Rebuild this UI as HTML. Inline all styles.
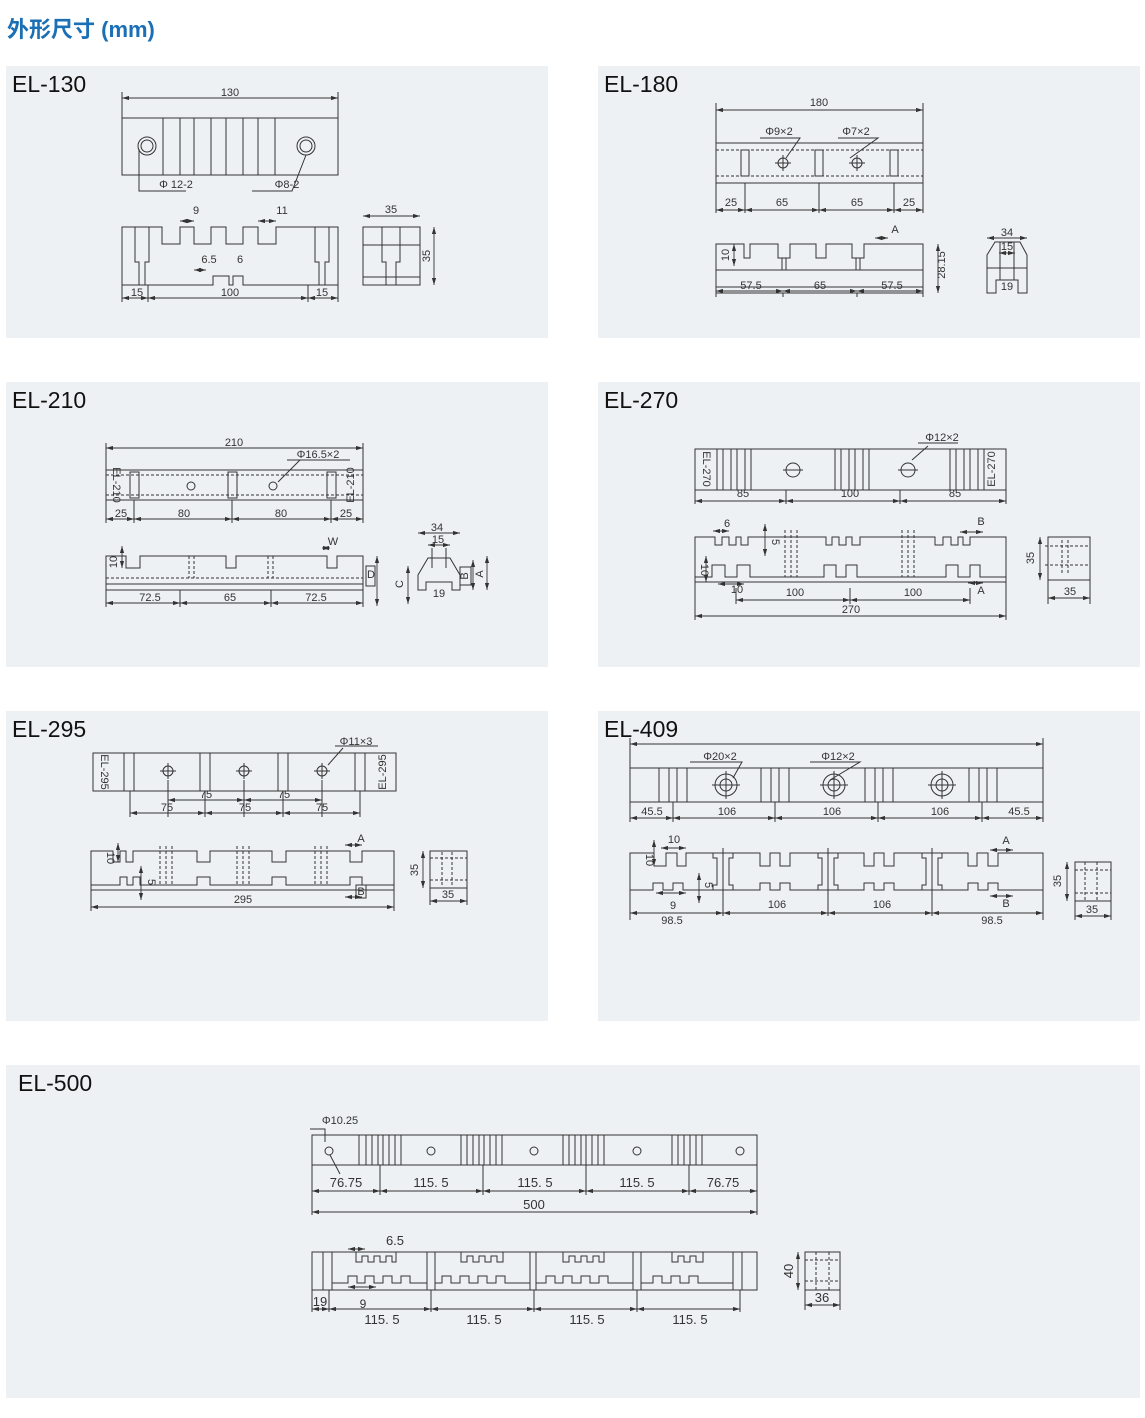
<!DOCTYPE html>
<html><head><meta charset="utf-8"><style>
body{margin:0;background:#fff;width:1145px;height:1418px;overflow:hidden;font-family:"Liberation Sans","Noto Sans CJK SC",sans-serif}
svg{position:absolute;left:0;top:0}
.s{fill:none;stroke:#333;stroke-width:1}
.d{fill:none;stroke:#333;stroke-width:0.9;marker-start:url(#a);marker-end:url(#b)}
.h{stroke-dasharray:3 2}
.t{font-family:"Liberation Sans",sans-serif;font-size:11px;fill:#333;text-anchor:middle}
.L{font-family:"Liberation Sans",sans-serif;font-size:23px;fill:#111}
</style></head><body>
<svg width="1145" height="1418" viewBox="0 0 1145 1418">
<defs>
<marker id="b" viewBox="0 0 10 6" refX="10" refY="3" markerWidth="8" markerHeight="5" orient="auto"><path d="M0,0L10,3L0,6z" fill="#333"/></marker>
<marker id="a" viewBox="0 0 10 6" refX="0" refY="3" markerWidth="8" markerHeight="5" orient="auto"><path d="M10,0L0,3L10,6z" fill="#333"/></marker>
</defs>
<text x="7" y="37" font-size="22" font-weight="bold" fill="#1a6fb5" font-family="Liberation Sans,Noto Sans CJK SC,sans-serif">外形尺寸 (mm)</text>
<g fill="#eef1f3">
<rect x="6" y="66" width="542" height="272"/><rect x="598" y="66" width="542" height="272"/>
<rect x="6" y="382" width="542" height="285"/><rect x="598" y="382" width="542" height="285"/>
<rect x="6" y="711" width="542" height="310"/><rect x="598" y="711" width="542" height="310"/>
<rect x="6" y="1065" width="1134" height="333"/>
</g>
<text class="L" x="12" y="92">EL-130</text><text class="L" x="604" y="92">EL-180</text>
<text class="L" x="12" y="408">EL-210</text><text class="L" x="604" y="408">EL-270</text>
<text class="L" x="12" y="737">EL-295</text><text class="L" x="604" y="737">EL-409</text>
<text class="L" x="18" y="1091">EL-500</text>

<!-- EL-130 -->
<g>
<path class="s" d="M122,92V118M338,92V118"/><line class="d" x1="122" y1="98" x2="338" y2="98"/><text class="t" x="230" y="96">130</text>
<rect class="s" x="122" y="118" width="216" height="57"/>
<path class="s" d="M163,118V175M180,118V175M194,118V175M211,118V175M226,118V175M243,118V175M258,118V175M275,118V175"/>
<circle class="s" cx="147" cy="146" r="9"/><circle class="s" cx="147" cy="146" r="6"/>
<circle class="s" cx="306" cy="146" r="9"/><circle class="s" cx="306" cy="146" r="6"/>
<path class="s" d="M139,149V191H186M306,155L292,191H252"/>
<text class="t" x="176" y="188">Φ 12-2</text><text class="t" x="287" y="188">Φ8-2</text>
<path class="s" d="M122,227H162V244H180V227H194V244H211V227H226V244H243V227H258V244H276V227H338V285H243V276H233V285H229V276H213V285H122Z"/>
<path class="s" d="M135,227V262H139V285M149,227V262H145V285M315,227V262H319V285M329,227V262H325V285"/>
<line class="d" x1="180" y1="221" x2="194" y2="221"/><text class="t" x="196" y="214">9</text>
<line class="d" x1="258" y1="221" x2="276" y2="221"/><text class="t" x="282" y="214">11</text>
<line class="d" x1="194" y1="270" x2="206" y2="270"/><text class="t" x="209" y="263">6.5</text><text class="t" x="240" y="263">6</text>
<path class="s" d="M122,285V302M148,285V302M308,285V302M338,285V302"/>
<line class="d" x1="122" y1="298" x2="148" y2="298"/><line class="d" x1="148" y1="298" x2="308" y2="298"/><line class="d" x1="308" y1="298" x2="338" y2="298"/>
<text class="t" x="137" y="296">15</text><text class="t" x="230" y="296">100</text><text class="t" x="322" y="296">15</text>
<rect class="s" x="363" y="227" width="57" height="58"/>
<path class="s" d="M363,245H420M363,277H420M382,227V262H386V285M400,227V262H396V285"/>
<line class="d" x1="363" y1="216" x2="420" y2="216"/><text class="t" x="391" y="213">35</text>
<line class="d" x1="434" y1="227" x2="434" y2="285"/><text class="t" x="430" y="256" transform="rotate(-90 430 256)">35</text>
</g>

<!-- EL-180 -->
<g>
<path class="s" d="M716,103V143M923,103V143"/><line class="d" x1="716" y1="110" x2="923" y2="110"/><text class="t" x="819" y="106">180</text>
<rect class="s" x="716" y="143" width="207" height="40"/>
<path class="s h" d="M716,150H923M716,176H923"/>
<rect class="s" x="741" y="150" width="8" height="26"/><rect class="s" x="815" y="150" width="8" height="26"/><rect class="s" x="890" y="150" width="8" height="26"/>
<circle class="s" cx="783" cy="163" r="5"/><circle class="s" cx="857" cy="163" r="5"/>
<path class="s" d="M775,163H791M783,155V171M849,163H865M857,155V171M760,138H800L786,158M838,138H878L850,158"/>
<text class="t" x="779" y="135">Φ9×2</text><text class="t" x="856" y="135">Φ7×2</text>
<path class="s" d="M716,183V213M745,183V213M819,183V213M894,183V213M923,183V213"/>
<line class="d" x1="716" y1="210" x2="745" y2="210"/><line class="d" x1="745" y1="210" x2="819" y2="210"/><line class="d" x1="819" y1="210" x2="894" y2="210"/><line class="d" x1="894" y1="210" x2="923" y2="210"/>
<text class="t" x="731" y="206">25</text><text class="t" x="782" y="206">65</text><text class="t" x="857" y="206">65</text><text class="t" x="909" y="206">25</text>
<path class="s" d="M716,244H744V258H750V244H778V258H790V244H816V258H826V244H852V258H864V244H923V293H716Z"/>
<path class="s" d="M716,270H923M716,287H923M782,258V270M786,258V270M856,258V270M860,258V270"/>
<line class="d" x1="734" y1="244" x2="734" y2="266"/><text class="t" x="729" y="255" transform="rotate(-90 729 255)">10</text>
<line class="d" x1="938" y1="244" x2="938" y2="293"/><text class="t" x="945" y="265" transform="rotate(-90 945 265)">28.15</text>
<line class="d" x1="875" y1="238" x2="888" y2="238"/><text class="t" x="895" y="233">A</text>
<path class="s" d="M716,293V297M783,293V297M857,293V297M923,293V297"/>
<line class="d" x1="716" y1="291" x2="783" y2="291"/><line class="d" x1="783" y1="291" x2="857" y2="291"/><line class="d" x1="857" y1="291" x2="923" y2="291"/>
<text class="t" x="751" y="289">57.5</text><text class="t" x="820" y="289">65</text><text class="t" x="892" y="289">57.5</text>
<path class="s" d="M987,293V255L995,242H1020L1027,255V293H1018V280H996V293Z"/>
<path class="s" d="M987,268H1027M1000,242V280M1014,242V280"/>
<line class="d" x1="987" y1="238" x2="1027" y2="238"/><text class="t" x="1007" y="236">34</text>
<line class="d" x1="999" y1="253" x2="1015" y2="253"/><text class="t" x="1007" y="250">15</text>
<text class="t" x="1007" y="290">19</text>
</g>

<!-- EL-210 -->
<g>
<path class="s" d="M106,443V470M363,443V470"/><line class="d" x1="106" y1="448" x2="363" y2="448"/><text class="t" x="234" y="446">210</text>
<rect class="s" x="106" y="470" width="257" height="30"/>
<path class="s h" d="M106,475H363M106,495H363"/>
<rect class="s" x="130" y="472" width="9" height="26"/><rect class="s" x="228" y="472" width="9" height="26"/><rect class="s" x="327" y="472" width="9" height="26"/>
<circle class="s" cx="191" cy="486" r="4"/><circle class="s" cx="273" cy="486" r="4"/>
<path class="s" d="M287,460H350M300,460L278,482"/><text class="t" x="318" y="458">Φ16.5×2</text>
<text class="t" x="113" y="485" font-size="9" transform="rotate(90 113 485)">EL-210</text>
<text class="t" x="354" y="485" font-size="9" transform="rotate(-90 354 485)">EL-210</text>
<path class="s" d="M106,500V523M134,500V523M232,500V523M331,500V523M363,500V523"/>
<line class="d" x1="106" y1="519" x2="134" y2="519"/><line class="d" x1="134" y1="519" x2="232" y2="519"/><line class="d" x1="232" y1="519" x2="331" y2="519"/><line class="d" x1="331" y1="519" x2="363" y2="519"/>
<text class="t" x="121" y="517">25</text><text class="t" x="184" y="517">80</text><text class="t" x="281" y="517">80</text><text class="t" x="346" y="517">25</text>
<path class="s" d="M106,556H126V568H140V556H226V568H236V556H327V568H337V556H363V590H106Z"/>
<path class="s h" d="M106,578H363M189,556V578M194,556V578M268,556V578M273,556V578"/>
<path class="s" d="M106,584H363"/>
<line class="d" x1="122" y1="546" x2="122" y2="568"/><text class="t" x="117" y="562" transform="rotate(-90 117 562)">10</text>
<line class="d" x1="322" y1="548" x2="330" y2="548"/><text class="t" x="333" y="545">W</text>
<line class="d" x1="377" y1="556" x2="377" y2="606"/><rect class="s" x="366" y="566" width="9" height="20"/><text class="t" x="371" y="578" font-size="9">D</text>
<path class="s" d="M106,590V607M180,590V607M271,590V607M363,590V607"/>
<line class="d" x1="106" y1="603" x2="180" y2="603"/><line class="d" x1="180" y1="603" x2="271" y2="603"/><line class="d" x1="271" y1="603" x2="363" y2="603"/>
<text class="t" x="150" y="601">72.5</text><text class="t" x="230" y="601">65</text><text class="t" x="316" y="601">72.5</text>
<path class="s" d="M418,590V575L428,558H450L460,575V590H452V582H426V590Z"/>
<path class="s" d="M432,548V568M446,548V568"/>
<line class="d" x1="418" y1="533" x2="460" y2="533"/><text class="t" x="437" y="531">34</text>
<line class="d" x1="428" y1="545" x2="450" y2="545"/><text class="t" x="438" y="543">15</text>
<text class="t" x="439" y="597">19</text>
<line class="d" x1="408" y1="566" x2="408" y2="604"/><text class="t" x="403" y="584" transform="rotate(-90 403 584)">C</text>
<line class="d" x1="473" y1="560" x2="473" y2="590"/><rect class="s" x="460" y="567" width="11" height="18"/><text class="t" x="468" y="576" font-size="9" transform="rotate(-90 468 576)">B</text>
<line class="d" x1="487" y1="556" x2="487" y2="590"/><text class="t" x="483" y="574" transform="rotate(-90 483 574)">A</text>
</g>

<!-- EL-270 -->
<g>
<rect class="s" x="695" y="449" width="311" height="41"/>
<path class="s" d="M717,449V490M723,449V490M731,449V490M737,449V490M745,449V490M751,449V490M835,449V490M841,449V490M849,449V490M855,449V490M863,449V490M869,449V490M950,449V490M956,449V490M964,449V490M970,449V490M978,449V490M984,449V490"/>
<circle class="s" cx="793" cy="470" r="7"/><circle class="s" cx="908" cy="470" r="7"/>
<path class="s" d="M783,470H803M918,470H898"/>
<path class="s" d="M918,443H958M928,446L912,460"/><text class="t" x="942" y="441">Φ12×2</text>
<text class="t" x="703" y="469" font-size="9" transform="rotate(90 703 469)">EL-270</text>
<text class="t" x="995" y="469" font-size="9" transform="rotate(-90 995 469)">EL-270</text>
<path class="s" d="M695,490V504M786,490V504M900,490V504M1006,490V504"/>
<line class="d" x1="695" y1="501" x2="786" y2="501"/><line class="d" x1="786" y1="501" x2="900" y2="501"/><line class="d" x1="900" y1="501" x2="1006" y2="501"/>
<text class="t" x="743" y="497">85</text><text class="t" x="850" y="497">100</text><text class="t" x="955" y="497">85</text>
<path class="s" d="M695,537H715V545H722V537H729V545H736V537H741V545H748V537H826V545H832V537H839V545H846V537H852V545H860V537H935V545H943V537H951V545H958V537H963V545H970V537H1006V582H695Z"/>
<path class="s" d="M695,577H712V565H725V577H737V565H750V577H824V565H836V577H846V565H857V577H946V565H958V577H970V565H980V577H1006"/>
<path class="s h" d="M785,530V577M791,530V577M797,530V577M902,530V577M908,530V577M914,530V577M1045,546H1090M1045,565H1090M1062,540V575M1068,540V575"/>
<line class="d" x1="713" y1="531" x2="729" y2="531"/><text class="t" x="727" y="527">6</text>
<line class="d" x1="765" y1="524" x2="765" y2="556"/><text class="t" x="772" y="542" transform="rotate(90 772 542)">5</text>
<line class="d" x1="706" y1="556" x2="706" y2="582"/><text class="t" x="701" y="570" transform="rotate(90 701 570)">10</text>
<line class="d" x1="718" y1="584" x2="744" y2="584"/><text class="t" x="737" y="593">10</text>
<line class="d" x1="960" y1="532" x2="983" y2="532"/><text class="t" x="981" y="525">B</text>
<line class="d" x1="968" y1="583" x2="983" y2="583"/><text class="t" x="981" y="594">A</text>
<path class="s" d="M736,588V604M850,588V604M970,588V604M695,582V620M1006,582V620"/>
<line class="d" x1="736" y1="600" x2="850" y2="600"/><line class="d" x1="850" y1="600" x2="970" y2="600"/>
<text class="t" x="795" y="596">100</text><text class="t" x="913" y="596">100</text>
<line class="d" x1="695" y1="616" x2="1006" y2="616"/><text class="t" x="851" y="613">270</text>
<rect class="s" x="1048" y="537" width="42" height="43"/>
<line class="d" x1="1040" y1="537" x2="1040" y2="580"/><text class="t" x="1034" y="558" transform="rotate(-90 1034 558)">35</text>
<path class="s" d="M1048,580V604M1090,580V604"/><line class="d" x1="1048" y1="598" x2="1090" y2="598"/><text class="t" x="1070" y="595">35</text>
</g>

<!-- EL-295 -->
<g>
<rect class="s" x="93" y="753" width="303" height="38"/>
<rect class="s" x="124" y="753" width="10" height="38"/><rect class="s" x="200" y="753" width="10" height="38"/><rect class="s" x="278" y="753" width="10" height="38"/><rect class="s" x="355" y="753" width="10" height="38"/>
<circle class="s" cx="168" cy="771" r="5"/><circle class="s" cx="244" cy="771" r="5"/><circle class="s" cx="322" cy="771" r="5"/>
<path class="s" d="M160,771H176M236,771H252M314,771H330M168,763V779M244,763V779M322,763V779"/>
<path class="s" d="M335,746H378M343,748L328,765"/><text class="t" x="356" y="745">Φ11×3</text>
<text class="t" x="101" y="772" font-size="9" transform="rotate(90 101 772)">EL-295</text>
<text class="t" x="386" y="772" font-size="9" transform="rotate(-90 386 772)">EL-295</text>
<path class="s" d="M130,791V817M168,780V817M205,791V817M244,780V817M283,791V817M322,780V817M360,791V817"/>
<line class="d" x1="168" y1="800" x2="244" y2="800"/><line class="d" x1="244" y1="800" x2="322" y2="800"/>
<line class="d" x1="130" y1="813" x2="205" y2="813"/><line class="d" x1="205" y1="813" x2="283" y2="813"/><line class="d" x1="283" y1="813" x2="360" y2="813"/>
<text class="t" x="206" y="798">75</text><text class="t" x="284" y="798">75</text>
<text class="t" x="167" y="811">75</text><text class="t" x="245" y="811">75</text><text class="t" x="322" y="811">75</text>
<path class="s" d="M91,851H113V862H120V851H126V862H133V851H197V862H210V851H272V862H286V851H350V862H362V851H394V890H91Z"/>
<path class="s" d="M91,885H120V877H127V885H133V877H140V885H197V877H210V885H272V877H286V885H350V877H362V885H394"/>
<path class="s h" d="M160,846V885M166,846V885M172,846V885M237,846V885M243,846V885M249,846V885M315,846V885M321,846V885M327,846V885M430,858H467M430,880H467M442,852V887M452,852V887"/>
<line class="d" x1="118" y1="843" x2="118" y2="862"/><text class="t" x="107" y="858" transform="rotate(90 107 858)">10</text>
<line class="d" x1="141" y1="866" x2="141" y2="900"/><text class="t" x="148" y="882" transform="rotate(90 148 882)">5</text>
<line class="d" x1="345" y1="845" x2="362" y2="845"/><text class="t" x="361" y="842">A</text>
<line class="d" x1="345" y1="897" x2="362" y2="897"/><rect class="s" x="356" y="885" width="10" height="13"/><text class="t" x="361" y="895" font-size="9">B</text>
<path class="s" d="M91,890V911M394,890V911"/><line class="d" x1="91" y1="907" x2="394" y2="907"/><text class="t" x="243" y="903">295</text>
<rect class="s" x="430" y="851" width="37" height="37"/>
<line class="d" x1="423" y1="851" x2="423" y2="888"/><text class="t" x="418" y="870" transform="rotate(-90 418 870)">35</text>
<path class="s" d="M430,888V905M467,888V905"/><line class="d" x1="430" y1="901" x2="467" y2="901"/><text class="t" x="448" y="898">35</text>
</g>

<!-- EL-409 -->
<g>
<path class="s" d="M630,738V768M1043,738V768"/><line class="d" x1="630" y1="744" x2="1043" y2="744"/>
<rect class="s" x="630" y="768" width="413" height="34"/>
<path class="s" d="M659,768V802M669,768V802M677,768V802M687,768V802M761,768V802M771,768V802M779,768V802M789,768V802M865,768V802M875,768V802M883,768V802M893,768V802M969,768V802M979,768V802M987,768V802M997,768V802"/>
<g class="s"><circle cx="726" cy="785" r="11"/><circle cx="726" cy="785" r="6"/><circle cx="834" cy="785" r="11"/><circle cx="834" cy="785" r="6"/><circle cx="942" cy="785" r="11"/><circle cx="942" cy="785" r="6"/></g>
<path class="s" d="M712,785H740M726,771V799M820,785H848M834,771V799M928,785H956M942,771V799"/>
<path class="s" d="M690,762H742L733,778M810,762H860L830,780"/>
<text class="t" x="720" y="760">Φ20×2</text><text class="t" x="838" y="760">Φ12×2</text>
<path class="s" d="M630,802V822M673,802V822M775,802V822M878,802V822M982,802V822M1043,802V822"/>
<line class="d" x1="630" y1="818" x2="673" y2="818"/><line class="d" x1="673" y1="818" x2="775" y2="818"/><line class="d" x1="775" y1="818" x2="878" y2="818"/><line class="d" x1="878" y1="818" x2="982" y2="818"/><line class="d" x1="982" y1="818" x2="1043" y2="818"/>
<text class="t" x="652" y="815">45.5</text><text class="t" x="727" y="815">106</text><text class="t" x="832" y="815">106</text><text class="t" x="940" y="815">106</text><text class="t" x="1019" y="815">45.5</text>
<path class="s" d="M630,853H654V866H666V853H677V866H686V853H760V866H770V853H780V866H790V853H864V866H874V853H884V866H894V853H968V866H977V853H988V866H998V853H1043V890H998V883H988V890H978V883H968V890H894V883H884V890H874V883H864V890H790V883H780V890H770V883H760V890H683V883H673V890H663V883H653V890H630Z"/>
<path class="s" d="M723,848V916M828,848V916M932,848V916"/>
<path class="s" d="M713,853V858H717V885H713V890M733,853V858H729V885H733V890M818,853V858H822V885H818V890M838,853V858H834V885H838V890M922,853V858H926V885H922V890M942,853V858H938V885H942V890"/>
<path class="s h" d="M1075,870H1111M1075,893H1111M1085,862V900M1097,862V900"/>
<line class="d" x1="661" y1="848" x2="686" y2="848"/><text class="t" x="674" y="843">10</text>
<line class="d" x1="654" y1="840" x2="654" y2="866"/><text class="t" x="646" y="860" transform="rotate(90 646 860)">10</text>
<line class="d" x1="699" y1="873" x2="699" y2="903"/><text class="t" x="705" y="885" transform="rotate(90 705 885)">5</text>
<line class="d" x1="656" y1="893" x2="686" y2="893"/><text class="t" x="673" y="909">9</text>
<line class="d" x1="990" y1="850" x2="1013" y2="850"/><text class="t" x="1006" y="844">A</text>
<line class="d" x1="990" y1="896" x2="1013" y2="896"/><text class="t" x="1006" y="907">B</text>
<path class="s" d="M630,890V920M1043,890V920"/>
<line class="d" x1="630" y1="913" x2="723" y2="913"/><line class="d" x1="723" y1="913" x2="828" y2="913"/><line class="d" x1="828" y1="913" x2="932" y2="913"/><line class="d" x1="932" y1="913" x2="1043" y2="913"/>
<text class="t" x="777" y="908">106</text><text class="t" x="882" y="908">106</text>
<text class="t" x="672" y="924">98.5</text><text class="t" x="992" y="924">98.5</text>
<rect class="s" x="1075" y="862" width="36" height="39"/>
<line class="d" x1="1067" y1="862" x2="1067" y2="901"/><text class="t" x="1061" y="881" transform="rotate(-90 1061 881)">35</text>
<path class="s" d="M1075,901V920M1111,901V920"/><line class="d" x1="1075" y1="916" x2="1111" y2="916"/><text class="t" x="1092" y="913">35</text>
</g>

<!-- EL-500 -->
<g>
<text class="t" x="340" y="1124">Φ10.25</text>
<path class="s" d="M310,1129H325V1142"/>
<rect class="s" x="312" y="1135" width="445" height="30"/>
<path class="s" d="M359,1135V1165M366,1135V1165M372,1135V1165M378,1135V1165M383,1135V1165M389,1135V1165M395,1135V1165M401,1135V1165M461,1135V1165M467,1135V1165M473,1135V1165M479,1135V1165M484,1135V1165M490,1135V1165M496,1135V1165M502,1135V1165M563,1135V1165M569,1135V1165M575,1135V1165M581,1135V1165M586,1135V1165M592,1135V1165M598,1135V1165M604,1135V1165M672,1135V1165M678,1135V1165M684,1135V1165M690,1135V1165M696,1135V1165M702,1135V1165"/>
<g class="s"><circle cx="329" cy="1151" r="4"/><circle cx="431" cy="1151" r="4"/><circle cx="534" cy="1151" r="4"/><circle cx="637" cy="1151" r="4"/><circle cx="740" cy="1151" r="4"/></g>
<path class="s" d="M330,1155L340,1174"/>
<path class="s" d="M312,1165V1215M380,1165V1195M483,1165V1195M586,1165V1195M689,1165V1195M757,1165V1215"/>
<line class="d" x1="312" y1="1191" x2="380" y2="1191"/><line class="d" x1="380" y1="1191" x2="483" y2="1191"/><line class="d" x1="483" y1="1191" x2="586" y2="1191"/><line class="d" x1="586" y1="1191" x2="689" y2="1191"/><line class="d" x1="689" y1="1191" x2="757" y2="1191"/>
<g class="t" style="font-size:13px"><text x="346" y="1187">76.75</text><text x="431" y="1187">115. 5</text><text x="535" y="1187">115. 5</text><text x="637" y="1187">115. 5</text><text x="723" y="1187">76.75</text><text x="534" y="1209">500</text></g>
<line class="d" x1="312" y1="1212" x2="757" y2="1212"/>
<rect class="s" x="312" y="1252" width="445" height="38"/>
<path class="s" d="M323,1252V1290M332,1252V1290M427,1252V1290M435,1252V1290M530,1252V1290M536,1252V1290M633,1252V1290M641,1252V1290M733,1252V1290M742,1252V1290"/>
<path class="s" d="M356,1252V1262H362V1256H368V1262H374V1256H380V1262H386V1256H392V1262H396V1252M461,1252V1262H467V1256H473V1262H479V1256H485V1262H491V1256H497V1262H503V1252M563,1252V1262H569V1256H575V1262H581V1256H587V1262H593V1256H599V1262H604V1252M672,1252V1262H678V1256H684V1262H690V1256H696V1262H703V1252"/>
<path class="s" d="M332,1283H348V1276H357V1283H365V1276H374V1283H383V1276H392V1283H401V1276H410V1283H427M435,1283H442V1276H451V1283H460V1276H469V1283H478V1276H487V1283H496V1276H505V1283H530M536,1283H546V1276H555V1283H563V1276H572V1283H581V1276H590V1283H599V1276H608V1283H633M641,1283H653V1276H662V1283H671V1276H680V1283H689V1276H698V1283H733"/>
<line class="d" x1="348" y1="1249" x2="365" y2="1249"/><text class="t" x="395" y="1245" style="font-size:13px">6.5</text>
<line class="d" x1="348" y1="1287" x2="376" y2="1287"/><text class="t" x="363" y="1308" style="font-size:12px">9</text>
<path class="s" d="M312,1290V1312M329,1290V1312M431,1290V1312M534,1290V1312M637,1290V1312M740,1290V1312"/>
<line class="d" x1="312" y1="1309" x2="329" y2="1309"/><line class="d" x1="329" y1="1309" x2="431" y2="1309"/><line class="d" x1="431" y1="1309" x2="534" y2="1309"/><line class="d" x1="534" y1="1309" x2="637" y2="1309"/><line class="d" x1="637" y1="1309" x2="740" y2="1309"/>
<g class="t" style="font-size:13px"><text x="320" y="1306">19</text><text x="382" y="1324">115. 5</text><text x="484" y="1324">115. 5</text><text x="587" y="1324">115. 5</text><text x="690" y="1324">115. 5</text></g>
<rect class="s" x="805" y="1252" width="35" height="38"/>
<path class="s h" d="M805,1260H840M805,1281H840M816,1252V1290M829,1252V1290"/>
<line class="d" x1="798" y1="1252" x2="798" y2="1290"/><text class="t" x="793" y="1271" style="font-size:13px" transform="rotate(-90 793 1271)">40</text>
<path class="s" d="M805,1290V1310M840,1290V1310"/><line class="d" x1="805" y1="1305" x2="840" y2="1305"/><text class="t" x="822" y="1302" style="font-size:13px">36</text>
</g>
</svg>
</body></html>
